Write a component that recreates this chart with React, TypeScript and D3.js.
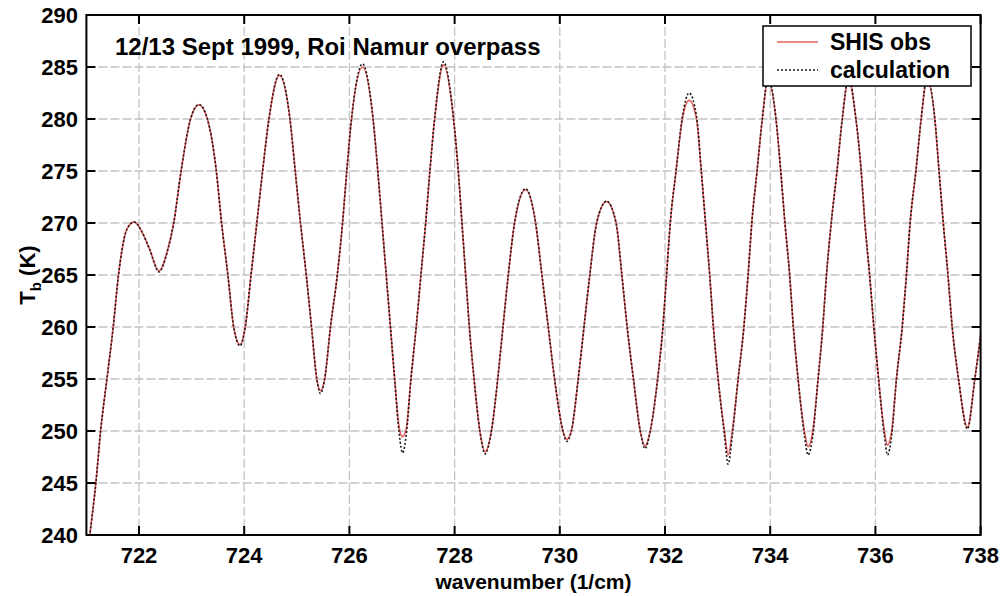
import React from "react";
import * as d3 from "d3";

const wavenumber = [
  721.0, 721.07, 721.18, 721.27, 721.39, 721.51, 721.61, 721.67, 721.77, 721.91, 722.05, 722.2, 722.38,
  722.55, 722.66, 722.8, 722.98, 723.14, 723.3, 723.47, 723.57, 723.69, 723.8, 723.92,
  724.02, 724.13, 724.24, 724.35, 724.47, 724.67, 724.87, 724.97, 725.07, 725.18, 725.28, 725.38, 725.45,
  725.53, 725.64, 725.77, 725.87, 725.95, 726.04, 726.25, 726.45, 726.54, 726.62, 726.7, 726.78, 726.86, 726.95, 727.01,
  727.08, 727.17, 727.27, 727.36, 727.45, 727.53, 727.62, 727.79, 727.98, 728.07, 728.14, 728.21, 728.28, 728.37, 728.48, 728.58,
  728.7, 728.82, 728.92, 729.02, 729.14, 729.35, 729.54, 729.66, 729.78, 729.9, 730.06, 730.13,
  730.22, 730.35, 730.46, 730.57, 730.7, 730.89, 731.07, 731.18, 731.28, 731.4, 731.53, 731.62,
  731.72, 731.86, 731.96, 732.03, 732.1, 732.21, 732.33, 732.46, 732.6, 732.69, 732.77, 732.85, 732.92, 733.01, 733.13, 733.2,
  733.28, 733.39, 733.5, 733.58, 733.65, 733.75, 733.85, 733.96, 734.11, 734.2, 734.28, 734.37, 734.44, 734.53, 734.65, 734.72,
  734.81, 734.91, 735.0, 735.07, 735.16, 735.27, 735.37, 735.49, 735.63, 735.73, 735.8, 735.89, 735.97, 736.06, 736.17, 736.23,
  736.31, 736.4, 736.51, 736.59, 736.66, 736.77, 736.87, 736.98, 737.13, 737.21, 737.29, 737.38, 737.46, 737.58, 737.75,
  737.89, 737.96, 738.0,
];

const shisObs = [
  237.2, 240.2, 245, 250, 255, 260, 265, 267.2, 269.4, 270.1, 269.2, 267.5, 265.4,
  267.5, 270, 275, 280, 281.35, 280, 275, 270, 265, 260, 258.3,
  260, 265, 270, 275, 280, 284.2, 280, 275, 270, 265, 260, 255, 253.9,
  255, 260, 265, 270, 275, 280, 285.0, 280, 275, 270, 265, 260, 255, 250.2, 249.45,
  250.2, 255, 260, 265, 270, 275, 280, 285.2, 280, 275, 270, 265, 260, 255, 250, 248.0,
  250, 255, 260, 265, 270, 273.2, 270, 265, 260, 255, 250, 249.2,
  250, 255, 260, 265, 270, 272.05, 270, 265, 260, 255, 250, 248.55,
  250, 255, 260, 265, 270, 275, 280, 281.8, 280, 275, 270, 265, 260, 255, 250, 247.7,
  250, 255, 260, 265, 270, 275, 280, 283.8, 280, 275, 270, 265, 260, 255, 250, 248.5,
  250, 255, 260, 265, 270, 275, 280, 283.8, 280, 275, 270, 265, 260, 255, 250, 248.65,
  250, 255, 260, 265, 270, 275, 280, 283.8, 280, 275, 270, 265, 260, 255, 250.35,
  255, 257.6, 259.2,
];

const calculation = [
  237.2, 240.2, 245, 250, 255, 260, 265, 267.2, 269.4, 270.1, 269.2, 267.5, 265.3,
  267.5, 270, 275, 280, 281.4, 280, 275, 270, 265, 260, 258.2,
  260, 265, 270, 275, 280, 284.3, 280, 275, 270, 265, 260, 255, 253.6,
  255, 260, 265, 270, 275, 280, 285.3, 280, 275, 270, 265, 260, 255, 249.6, 247.9,
  249.6, 255, 260, 265, 270, 275, 280, 285.5, 280, 275, 270, 265, 260, 255, 250, 247.8,
  250, 255, 260, 265, 270, 273.3, 270, 265, 260, 255, 250, 249.0,
  250, 255, 260, 265, 270, 272.1, 270, 265, 260, 255, 250, 248.3,
  250, 255, 260, 265, 270, 275, 280.2, 282.5, 280.2, 275, 270, 265, 260, 255, 249.6, 246.8,
  249.6, 255, 260, 265, 270, 275, 280, 284.0, 280, 275, 270, 265, 260, 255, 249.6, 247.7,
  249.6, 255, 260, 265, 270, 275, 280, 284.0, 280, 275, 270, 265, 260, 255, 249.6, 247.7,
  249.6, 255, 260, 265, 270, 275, 280, 284.0, 280, 275, 270, 265, 260, 255, 250.2,
  255, 257.6, 259.2,
];

const xTicks = [722, 724, 726, 728, 730, 732, 734, 736, 738];
const yTicks = [240, 245, 250, 255, 260, 265, 270, 275, 280, 285, 290];
const titleText = "12/13 Sept 1999, Roi Namur overpass";
const legendLabels = ["SHIS obs", "calculation"];

const FONT = "'Liberation Sans', Arial, Helvetica, sans-serif";

export default function App() {
  const W = 1000, H = 596;
  const left = 86.4, right = 980.6, top = 15, bottom = 535;
  const x = d3.scaleLinear().domain([721, 738]).range([left, right]);
  const y = d3.scaleLinear().domain([240, 290]).range([bottom, top]);

  const obsPts = wavenumber.map((v, i) => [v, shisObs[i]] as [number, number]);
  const calcPts = wavenumber.map((v, i) => [v, calculation[i]] as [number, number]);
  const line = d3
    .line<[number, number]>()
    .x((d) => x(d[0]))
    .y((d) => y(d[1]))
    .curve(d3.curveMonotoneX);

  const tickLen = 9;
  const gridColor = "#c4c4c4";

  const lgX = 763, lgY = 26, lgW = 208, lgH = 60;

  return (
    <svg
      width={W}
      height={H}
      style={{ position: "absolute", left: 0, top: 0, background: "#fff" }}
      fontFamily={FONT}
    >
      <defs>
        <clipPath id="plotclip">
          <rect x={left} y={top} width={right - left} height={bottom - top} />
        </clipPath>
      </defs>
      <rect x={0} y={0} width={W} height={H} fill="#fff" />

      {/* grid */}
      {xTicks
        .filter((t) => t > 721 && t < 738)
        .map((t) => (
          <line
            key={"gx" + t}
            x1={x(t)}
            x2={x(t)}
            y1={top}
            y2={bottom}
            stroke={gridColor}
            strokeWidth={1.3}
            strokeDasharray="9,3"
          />
        ))}
      {yTicks
        .filter((t) => t > 240 && t < 290)
        .map((t) => (
          <line
            key={"gy" + t}
            x1={left}
            x2={right}
            y1={y(t)}
            y2={y(t)}
            stroke={gridColor}
            strokeWidth={1.3}
            strokeDasharray="9,3"
          />
        ))}

      {/* data */}
      <g clipPath="url(#plotclip)">
        <path d={line(obsPts) || ""} fill="none" stroke="#e4605e" strokeWidth={1.7} />
        <path
          d={line(calcPts) || ""}
          fill="none"
          stroke="#1a1a1a"
          strokeWidth={1.6}
          strokeDasharray="2,2"
        />
      </g>

      {/* ticks */}
      {xTicks.map((t) => (
        <g key={"tx" + t}>
          <line x1={x(t)} x2={x(t)} y1={bottom} y2={bottom - tickLen} stroke="#000" strokeWidth={2} />
          <line x1={x(t)} x2={x(t)} y1={top} y2={top + tickLen} stroke="#000" strokeWidth={2} />
          <text
            x={x(t)}
            y={563}
            textAnchor="middle"
            fontSize={22}
            fontWeight="bold"
            fill="#000"
          >
            {t}
          </text>
        </g>
      ))}
      {yTicks.map((t) => (
        <g key={"ty" + t}>
          <line x1={left} x2={left + tickLen} y1={y(t)} y2={y(t)} stroke="#000" strokeWidth={2} />
          <line x1={right} x2={right - tickLen} y1={y(t)} y2={y(t)} stroke="#000" strokeWidth={2} />
          <text
            x={78}
            y={y(t) + 8}
            textAnchor="end"
            fontSize={22}
            fontWeight="bold"
            fill="#000"
          >
            {t}
          </text>
        </g>
      ))}

      {/* frame */}
      <rect
        x={left}
        y={top}
        width={right - left}
        height={bottom - top}
        fill="none"
        stroke="#000"
        strokeWidth={2}
      />

      {/* title */}
      <text x={115} y={55} fontSize={24} fontWeight="bold" fill="#000">
        {titleText}
      </text>

      {/* legend */}
      <rect x={lgX} y={lgY} width={lgW} height={lgH} fill="#fff" stroke="#000" strokeWidth={1.5} />
      <line x1={777} x2={818} y1={42} y2={42} stroke="#e4605e" strokeWidth={1.7} />
      <line
        x1={777}
        x2={818}
        y1={70}
        y2={70}
        stroke="#1a1a1a"
        strokeWidth={1.5}
        strokeDasharray="2,2"
      />
      <text x={830} y={50} fontSize={23} fontWeight="bold" fill="#000">
        {legendLabels[0]}
      </text>
      <text x={830} y={78} fontSize={23} fontWeight="bold" fill="#000">
        {legendLabels[1]}
      </text>

      {/* axis labels */}
      <text
        x={(left + right) / 2}
        y={589}
        textAnchor="middle"
        fontSize={21}
        fontWeight="bold"
        fill="#000"
      >
        wavenumber (1/cm)
      </text>
      <text
        transform={`translate(35, ${(top + bottom) / 2}) rotate(-90)`}
        textAnchor="middle"
        fontSize={22}
        fontWeight="bold"
        fill="#000"
      >
        T
        <tspan fontSize={15} dy={6}>
          b
        </tspan>
        <tspan dy={-6}> (K)</tspan>
      </text>
    </svg>
  );
}
